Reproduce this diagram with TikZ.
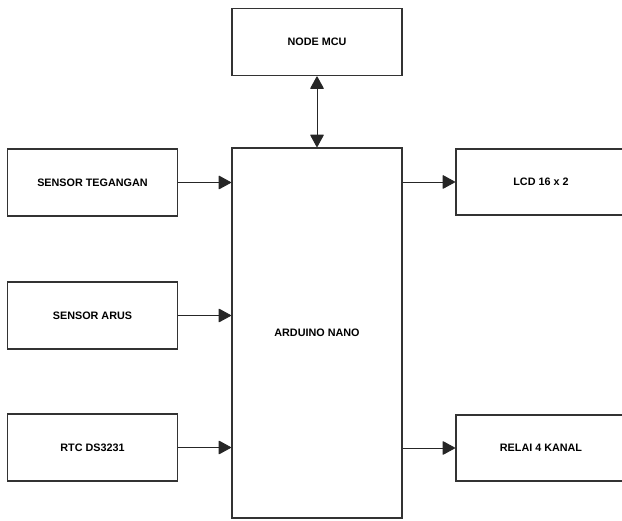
\documentclass[tikz,border=0pt]{standalone}
\usepackage{fontspec}
\setmainfont{Liberation Sans}
\usetikzlibrary{arrows.meta}
\begin{document}
\begin{tikzpicture}[x=1pt,y=-1pt,
  blk/.style={draw=black!80,line width=1.8pt,fill=white,inner sep=0pt,font=\bfseries\fontsize{10.8}{12}\selectfont},
  tip/.tip={Triangle[length=13pt,width=14pt,round]},
  conn/.style={draw=black!85,line width=0.9pt,-tip},
  conn2/.style={draw=black!85,line width=0.9pt,tip-tip}]
\clip (0,0) rectangle (622,521);
\fill[white] (0,0) rectangle (622,521);
\node[blk,minimum width=170pt,minimum height=67pt] (mcu) at (317,42) {NODE MCU};
\node[blk,minimum width=170pt,minimum height=370pt] (nano) at (317,333) {ARDUINO NANO};
\node[blk,minimum width=170pt,minimum height=67pt] (teg) at (92.5,182.5) {SENSOR TEGANGAN};
\node[blk,minimum width=170pt,minimum height=67pt] (arus) at (92.5,315.5) {SENSOR ARUS};
\node[blk,minimum width=170pt,minimum height=67pt] (rtc) at (92.5,447.5) {RTC DS3231};
\node[blk,minimum width=170pt,minimum height=66pt] (lcd) at (541,182) {LCD 16 x 2};
\node[blk,minimum width=170pt,minimum height=66pt] (relai) at (541,448) {RELAI 4 KANAL};
\draw[conn] (teg.east) -- (teg.east -| nano.west);
\draw[conn] (arus.east) -- (arus.east -| nano.west);
\draw[conn] (rtc.east) -- (rtc.east -| nano.west);
\draw[conn] (lcd.west -| nano.east) -- (lcd.west);
\draw[conn] (relai.west -| nano.east) -- (relai.west);
\draw[conn2] (mcu.south) -- (nano.north);
\end{tikzpicture}
\end{document}
